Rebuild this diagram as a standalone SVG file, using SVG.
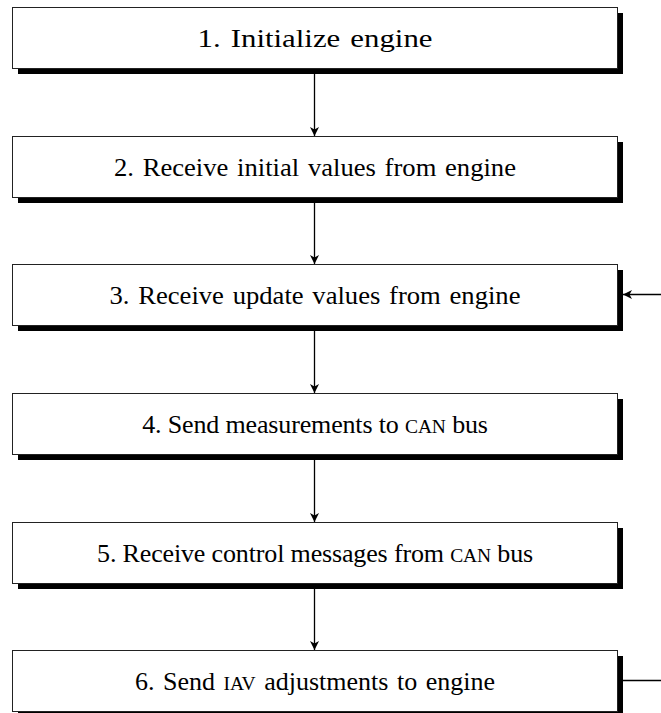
<svg xmlns="http://www.w3.org/2000/svg" width="661" height="713" viewBox="0 0 661 713">
  <style>
    .shadow { fill: #000; }
    .box { fill: #fff; stroke: #222; stroke-width: 1; }
    .label { font-family: "Liberation Serif", "DejaVu Serif", serif; font-size: 26px; fill: #000; text-anchor: middle; word-spacing: 2px; }
    .tight { word-spacing: 0; letter-spacing: -0.15px; }
    .sc { font-size: 19.5px; }
    .wire { stroke: #000; stroke-width: 1.3; fill: none; }
  </style>
  <defs>
    <marker id="head" viewBox="-10 -5 11 10" markerWidth="11" markerHeight="10" refX="0" refY="0" orient="auto" markerUnits="userSpaceOnUse">
      <path d="M0,0 L-9,-4.5 L-6.5,0 L-9,4.5 Z" fill="#000"/>
    </marker>
  </defs>

  <rect width="661" height="713" fill="#fff"/>

  <g id="step1">
    <rect class="shadow" x="18" y="13" width="605" height="61"/>
    <rect class="box" x="12.5" y="7.5" width="605" height="61"/>
    <text class="label" x="315" y="47" textLength="235" lengthAdjust="spacingAndGlyphs">1. Initialize engine</text>
  </g>
  <g id="step2">
    <rect class="shadow" x="18" y="142" width="605" height="61"/>
    <rect class="box" x="12.5" y="136.5" width="605" height="61"/>
    <text class="label" x="315" y="176" textLength="402" lengthAdjust="spacingAndGlyphs">2. Receive initial values from engine</text>
  </g>
  <g id="step3">
    <rect class="shadow" x="18" y="270" width="605" height="61"/>
    <rect class="box" x="12.5" y="264.5" width="605" height="61"/>
    <text class="label" x="315" y="304" textLength="411" lengthAdjust="spacingAndGlyphs">3. Receive update values from engine</text>
  </g>
  <g id="step4">
    <rect class="shadow" x="18" y="399" width="605" height="61"/>
    <rect class="box" x="12.5" y="393.5" width="605" height="61"/>
    <text class="label tight" x="315" y="433">4. Send measurements to <tspan class="sc">CAN</tspan> bus</text>
  </g>
  <g id="step5">
    <rect class="shadow" x="18" y="528" width="605" height="61"/>
    <rect class="box" x="12.5" y="522.5" width="605" height="61"/>
    <text class="label tight" x="315" y="562">5. Receive control messages from <tspan class="sc">CAN</tspan> bus</text>
  </g>
  <g id="step6">
    <rect class="shadow" x="18" y="656" width="605" height="61"/>
    <rect class="box" x="12.5" y="650.5" width="605" height="61"/>
    <text class="label" x="315" y="690">6. Send <tspan class="sc">IAV</tspan> adjustments to engine</text>
  </g>

  <g id="connectors">
    <line class="wire" x1="314.5" y1="74" x2="314.5" y2="136" marker-end="url(#head)"/>
    <line class="wire" x1="314.5" y1="203" x2="314.5" y2="264" marker-end="url(#head)"/>
    <line class="wire" x1="314.5" y1="331" x2="314.5" y2="393" marker-end="url(#head)"/>
    <line class="wire" x1="314.5" y1="460" x2="314.5" y2="522" marker-end="url(#head)"/>
    <line class="wire" x1="314.5" y1="589" x2="314.5" y2="650" marker-end="url(#head)"/>
    <line class="wire" x1="661" y1="294.5" x2="623" y2="294.5" marker-end="url(#head)"/>
    <line class="wire" x1="623" y1="680.5" x2="661" y2="680.5"/>
  </g>
</svg>
